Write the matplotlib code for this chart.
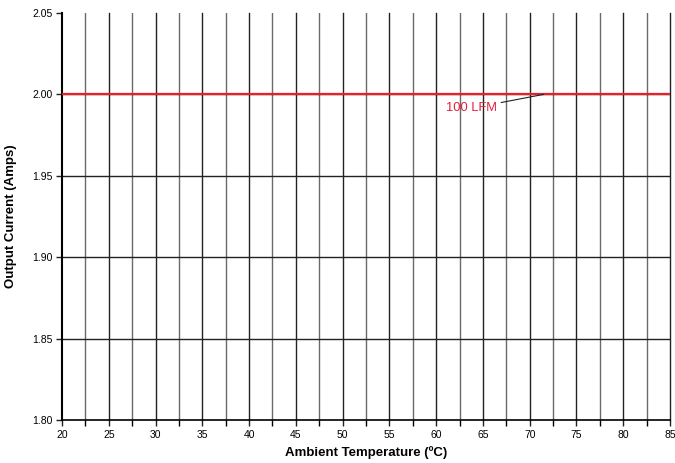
import matplotlib
matplotlib.use('Agg')
import matplotlib.pyplot as plt
import numpy as np

plt.rcParams['font.family'] = ['Liberation Sans Narrow', 'Liberation Sans', 'DejaVu Sans']

# data
temps = [20, 85]
current_100lfm = [2.00, 2.00]
x_ticks = list(range(20, 90, 5))
x_minor = list(np.arange(22.5, 85, 5))
y_ticks = [1.80, 1.85, 1.90, 1.95, 2.00, 2.05]

fig = plt.figure(figsize=(6.75, 4.63), dpi=100)
ax = fig.add_axes([0.0919, 0.0929, 0.9007, 0.8791])

for xv in x_ticks[1:]:
    ax.axvline(xv, color='#222222', lw=1.0, zorder=1, clip_on=False)
for xv in x_minor:
    ax.axvline(xv, color='#6a6a6a', lw=1.0, zorder=1)
for yv in y_ticks[1:-1]:
    ax.axhline(yv, color='#222222', lw=1.0, zorder=1)

ax.plot(temps, current_100lfm, color='#e8202a', lw=1.6, zorder=3)

ax.annotate('100 LFM', xy=(71.5, 2.0), xytext=(66.5, 1.9915),
            ha='right', va='center', color='#e0203c', fontsize=9.3,
            arrowprops=dict(arrowstyle='-', color='#222222', lw=0.8,
                            shrinkA=1, shrinkB=0))

ax.set_xlim(20, 85)
ax.set_ylim(1.80, 2.05)
ax.set_xticks(x_ticks)
ax.set_xticks(x_minor, minor=True)
ax.set_yticks(y_ticks)
ax.set_yticklabels(['%.2f' % v for v in y_ticks])
ax.tick_params(axis='both', labelsize=7.5, color='#222222', length=4, width=1.0, pad=3)
ax.tick_params(axis='x', which='minor', length=4, width=1.0)

for s in ['top', 'right']:
    ax.spines[s].set_visible(False)
ax.spines['left'].set_linewidth(1.5)
ax.spines['bottom'].set_linewidth(1.2)

ax.set_xlabel('Ambient Temperature (ºC)', fontsize=9.5, fontweight='bold')
ax.set_ylabel('Output Current (Amps)', fontsize=9.5, fontweight='bold')
ax.xaxis.set_label_coords(0.5, -0.064)
ax.yaxis.set_label_coords(-0.074, 0.5)

fig.savefig('out.png', dpi=100)
